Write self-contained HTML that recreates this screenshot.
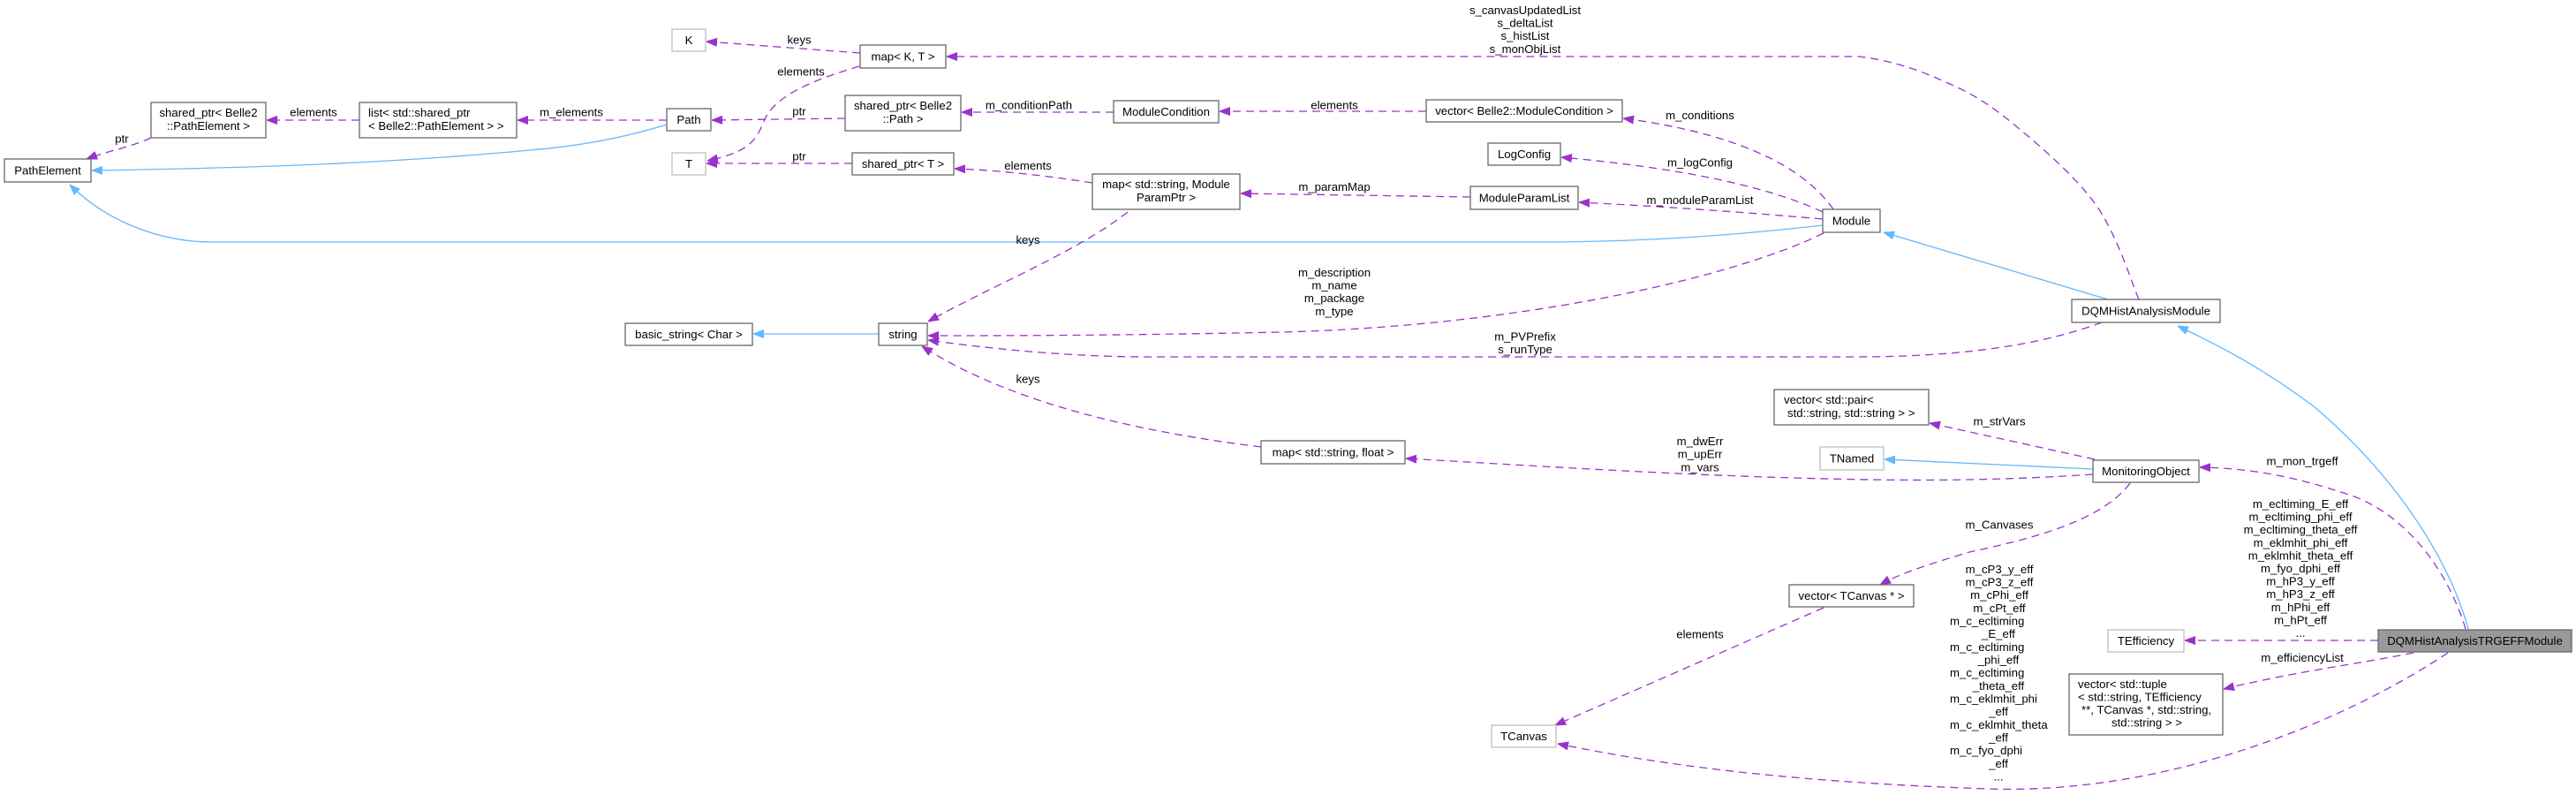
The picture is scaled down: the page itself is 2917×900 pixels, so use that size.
<!DOCTYPE html>
<html><head><meta charset="utf-8"><style>
html,body{margin:0;padding:0;background:#fff;}
svg{display:block;}
.u{fill:none;stroke:#9a32cd;stroke-width:1.3;stroke-dasharray:9,6;marker-end:url(#p);}
.i{fill:none;stroke:#63b8ff;stroke-width:1.3;marker-end:url(#b);}
.n{fill:#fff;stroke:#666;stroke-width:1.3;}
.g{fill:#fff;stroke:#bfbfbf;stroke-width:1.3;}
text{fill:#000;}
.c{text-anchor:middle;}
</style></head><body>
<svg width="2917" height="900" viewBox="0 0 2917 900" xmlns="http://www.w3.org/2000/svg" font-family="'Liberation Sans', Arial, sans-serif" font-size="13.2">
<defs>
<marker id="p" viewBox="0 0 12 10" refX="12" refY="5" markerWidth="12" markerHeight="10" markerUnits="userSpaceOnUse" orient="auto"><path d="M0,0.5 L12,5 L0,9.5 z" fill="#9a32cd" stroke="#9a32cd" stroke-width="1"/></marker>
<marker id="b" viewBox="0 0 12 10" refX="12" refY="5" markerWidth="12" markerHeight="10" markerUnits="userSpaceOnUse" orient="auto"><path d="M0,0.5 L12,5 L0,9.5 z" fill="#63b8ff" stroke="#63b8ff" stroke-width="1"/></marker>
</defs>

<!-- edges -->
<path class="u" d="M974,60 L800,47"/>
<path class="u" d="M973,75 C930,88 880,105 866,135 C856,160 848,172 801,182"/>
<path class="u" d="M965,185 L800,185"/>
<path class="u" d="M957,134 L806,136"/>
<path class="u" d="M755,136 L586,136"/>
<path class="u" d="M407,136 L302,136"/>
<path class="u" d="M171,156 C150,166 125,170 98,180"/>
<path class="i" d="M755,141 C700,158 650,166 600,170 C450,184 300,190 104,193"/>
<path class="i" d="M2064,255 C1950,268 1850,274 1740,274 L240,274 C180,274 120,250 79,209"/>
<path class="u" d="M1261,127 L1089,127"/>
<path class="u" d="M1615,126 L1381,126"/>
<path class="u" d="M2076,237 C2040,185 1960,150 1838,134"/>
<path class="u" d="M2064,240 C2000,210 1900,190 1768,178"/>
<path class="u" d="M2064,248 C1950,238 1850,232 1788,229"/>
<path class="u" d="M1665,223 L1405,219"/>
<path class="u" d="M1237,207 C1180,198 1120,192 1081,191"/>
<path class="u" d="M1277,240 C1220,285 1120,325 1051,364"/>
<path class="u" d="M2065,264 C1950,320 1700,370 1450,376 C1250,380 1150,380 1051,380"/>
<path class="u" d="M2380,365 C2300,395 2200,404 2100,404 L1300,404 C1200,404 1100,392 1051,385"/>
<path class="u" d="M1428,506 C1300,490 1150,460 1044,392"/>
<path class="u" d="M2370,537 C2250,545 2150,545 2000,540 C1850,535 1700,525 1592,519"/>
<path class="u" d="M2372,520 L2185,479"/>
<path class="i" d="M2370,531 L2134,520"/>
<path class="u" d="M2412,547 C2380,590 2300,610 2230,625 C2180,640 2150,650 2129,662"/>
<path class="u" d="M2065,688 L1761,821"/>
<path class="u" d="M2772,739 C2650,820 2450,900 2250,893 C2050,886 1900,870 1764,842"/>
<path class="u" d="M2693,725 L2474,725"/>
<path class="u" d="M2733,739 C2680,750 2600,760 2518,780"/>
<path class="u" d="M2792,712 C2770,640 2720,580 2660,560 C2600,540 2550,530 2491,529"/>
<path class="i" d="M2795,712 C2775,640 2720,545 2620,460 C2560,415 2510,390 2466,369"/>
<path class="i" d="M2387,339 L2133,263"/>
<path class="u" d="M2422,339 C2414,321 2397,264 2372,230 C2347,196 2302,158 2272,134 C2242,110 2220,100 2192,88 C2164,76 2137,68 2105,64 L1072,64"/>
<path class="i" d="M995,378 L853,378"/>

<!-- nodes -->
<rect class="n" x="5" y="180" width="98" height="26"/>
<text class="c" x="54" y="197.5">PathElement</text>

<rect class="n" x="171" y="116" width="130" height="40"/>
<text class="c" x="236" y="132">shared_ptr&lt; Belle2</text>
<text class="c" x="236" y="147">::PathElement &gt;</text>

<rect class="n" x="407" y="116" width="178" height="40"/>
<text x="417" y="132">list&lt; std::shared_ptr</text>
<text x="417" y="147">&lt; Belle2::PathElement &gt; &gt;</text>

<rect class="n" x="755" y="123" width="50" height="25"/>
<text class="c" x="780" y="140">Path</text>

<rect class="n" x="974" y="51" width="97" height="26"/>
<text class="c" x="1022.5" y="68.5">map&lt; K, T &gt;</text>

<rect class="n" x="957" y="108" width="131" height="40"/>
<text class="c" x="1022.5" y="124">shared_ptr&lt; Belle2</text>
<text class="c" x="1022.5" y="139">::Path &gt;</text>

<rect class="n" x="965" y="173" width="115" height="25"/>
<text class="c" x="1022.5" y="190">shared_ptr&lt; T &gt;</text>

<rect class="n" x="1261" y="114" width="119" height="25"/>
<text class="c" x="1320.5" y="131">ModuleCondition</text>

<rect class="n" x="1615" y="113" width="222" height="25"/>
<text class="c" x="1726" y="130">vector&lt; Belle2::ModuleCondition &gt;</text>

<rect class="n" x="1685" y="162" width="82" height="25"/>
<text class="c" x="1726" y="179">LogConfig</text>

<rect class="n" x="1237" y="197" width="167" height="40"/>
<text class="c" x="1320.5" y="213">map&lt; std::string, Module</text>
<text class="c" x="1320.5" y="228">ParamPtr &gt;</text>

<rect class="n" x="1665" y="211" width="122" height="26"/>
<text class="c" x="1726" y="228.5">ModuleParamList</text>

<rect class="n" x="2064" y="237" width="65" height="26"/>
<text class="c" x="2096.5" y="254.5">Module</text>

<rect class="n" x="2346" y="339" width="168" height="26"/>
<text class="c" x="2430" y="356.5">DQMHistAnalysisModule</text>

<rect class="n" x="708" y="366" width="144" height="25"/>
<text class="c" x="780" y="383">basic_string&lt; Char &gt;</text>

<rect class="n" x="995" y="366" width="55" height="25"/>
<text class="c" x="1022.5" y="383">string</text>

<rect class="n" x="1428" y="499" width="163" height="26"/>
<text class="c" x="1509.5" y="516.5">map&lt; std::string, float &gt;</text>

<rect class="n" x="2009" y="441" width="175" height="40"/>
<text x="2020" y="457">vector&lt; std::pair&lt;</text>
<text x="2024" y="472">std::string, std::string &gt; &gt;</text>

<rect class="n" x="2370" y="521" width="120" height="25"/>
<text class="c" x="2430" y="538">MonitoringObject</text>

<rect class="n" x="2026" y="662" width="141" height="25"/>
<text class="c" x="2096.5" y="679">vector&lt; TCanvas * &gt;</text>

<rect class="n" x="2343" y="763" width="174" height="69"/>
<text x="2353" y="779">vector&lt; std::tuple</text>
<text x="2353" y="793.5">&lt; std::string, TEfficiency</text>
<text x="2357" y="808">**, TCanvas *, std::string,</text>
<text class="c" x="2431" y="822.5">std::string &gt; &gt;</text>

<rect x="2693" y="713" width="219" height="25" fill="#999" stroke="#666" stroke-width="1.3"/>
<text class="c" x="2802.5" y="730">DQMHistAnalysisTRGEFFModule</text>

<rect class="g" x="761" y="33" width="38" height="25"/>
<text class="c" x="780" y="50">K</text>

<rect class="g" x="761" y="173" width="38" height="25"/>
<text class="c" x="780" y="190">T</text>

<rect class="g" x="2061" y="506" width="72" height="26"/>
<text class="c" x="2097" y="523.5">TNamed</text>

<rect class="g" x="2387" y="713" width="86" height="25"/>
<text class="c" x="2430" y="730">TEfficiency</text>

<rect class="g" x="1689" y="821" width="73" height="25"/>
<text class="c" x="1725.5" y="838">TCanvas</text>

<!-- edge labels -->
<g class="c">
<text x="905" y="49.5">keys</text>
<text x="907" y="85.5">elements</text>
<text x="905" y="130.5">ptr</text>
<text x="905" y="181.5">ptr</text>
<text x="647" y="131.5">m_elements</text>
<text x="355" y="131.5">elements</text>
<text x="138" y="161.5">ptr</text>
<text x="1727" y="16">s_canvasUpdatedList</text>
<text x="1727" y="30.6">s_deltaList</text>
<text x="1727" y="45.2">s_histList</text>
<text x="1727" y="59.8">s_monObjList</text>
<text x="1165" y="123.5">m_conditionPath</text>
<text x="1511" y="123.5">elements</text>
<text x="1925" y="135">m_conditions</text>
<text x="1925" y="188.5">m_logConfig</text>
<text x="1164" y="192">elements</text>
<text x="1511" y="216">m_paramMap</text>
<text x="1925" y="231">m_moduleParamList</text>
<text x="1164" y="276">keys</text>
<text x="1511" y="313">m_description</text>
<text x="1511" y="327.6">m_name</text>
<text x="1511" y="342.2">m_package</text>
<text x="1511" y="356.8">m_type</text>
<text x="1727" y="385.3">m_PVPrefix</text>
<text x="1727" y="400">s_runType</text>
<text x="1164" y="433.5">keys</text>
<text x="1925" y="504">m_dwErr</text>
<text x="1925" y="518.6">m_upErr</text>
<text x="1925" y="533.4">m_vars</text>
<text x="2264" y="481.5">m_strVars</text>
<text x="2607" y="526.5">m_mon_trgeff</text>
<text x="2264" y="598.5">m_Canvases</text>
<text x="1925" y="722.5">elements</text>
<text x="2605" y="575">m_ecltiming_E_eff</text>
<text x="2605" y="589.6">m_ecltiming_phi_eff</text>
<text x="2605" y="604.2">m_ecltiming_theta_eff</text>
<text x="2605" y="618.8">m_eklmhit_phi_eff</text>
<text x="2605" y="633.4">m_eklmhit_theta_eff</text>
<text x="2605" y="648">m_fyo_dphi_eff</text>
<text x="2605" y="662.6">m_hP3_y_eff</text>
<text x="2605" y="677.2">m_hP3_z_eff</text>
<text x="2605" y="691.8">m_hPhi_eff</text>
<text x="2605" y="706.4">m_hPt_eff</text>
<text x="2605" y="721">...</text>
<text x="2607" y="749">m_efficiencyList</text>
<text x="2264" y="648.8">m_cP3_y_eff</text>
<text x="2264" y="663.5">m_cP3_z_eff</text>
<text x="2264" y="678.2">m_cPhi_eff</text>
<text x="2264" y="692.8">m_cPt_eff</text>
<text x="2263" y="722.2">_E_eff</text>
<text x="2263" y="751.5">_phi_eff</text>
<text x="2263" y="780.8">_theta_eff</text>
<text x="2263" y="810.2">_eff</text>
<text x="2263" y="839.5">_eff</text>
<text x="2263" y="868.8">_eff</text>
<text x="2263" y="883.5">...</text>
</g>
<text x="2208" y="707.5">m_c_ecltiming</text>
<text x="2208" y="736.8">m_c_ecltiming</text>
<text x="2208" y="766.2">m_c_ecltiming</text>
<text x="2208" y="795.5">m_c_eklmhit_phi</text>
<text x="2208" y="824.8">m_c_eklmhit_theta</text>
<text x="2208" y="854.2">m_c_fyo_dphi</text>
</svg>
</body></html>
